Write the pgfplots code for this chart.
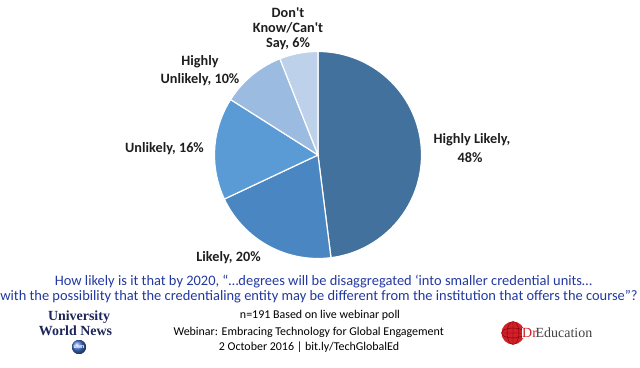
\documentclass[border=0pt]{standalone}
\usepackage{pgfplots}
\pgfplotsset{compat=1.18}
\usepackage{fontspec}
\setmainfont{Carlito}
\newfontfamily\seriffont{Liberation Serif}
\definecolor{cHL}{HTML}{41719C}
\definecolor{cL}{HTML}{4A86C2}
\definecolor{cU}{HTML}{5B9BD5}
\definecolor{cHU}{HTML}{9CBBE0}
\definecolor{cDK}{HTML}{BDD1EB}
\definecolor{labc}{HTML}{1E1E1E}
\definecolor{titc}{HTML}{2238A0}
\definecolor{uwn}{HTML}{1C2559}
\definecolor{dred}{HTML}{D0202A}
\begin{document}
\begin{tikzpicture}
\begin{axis}[width=640bp,height=367bp,scale only axis,
  xmin=0,xmax=640,ymin=0,ymax=367,hide axis,clip=false]
\path (0,0) rectangle (640,367);
% slices: Highly Likely 48, Likely 20, Unlikely 16, Highly Unlikely 10, Don't know 6 (3.6 deg per %)
\addplot[fill=cHL,draw=white,line width=1.2pt,domain=-82.8:90,samples=90,variable=\t]
  ({318+103.5*cos(\t)},{212+103.5*sin(\t)}) -- (318,212) -- cycle;
\addplot[fill=cL,draw=white,line width=1.2pt,domain=-154.8:-82.8,samples=40,variable=\t]
  ({318+103.5*cos(\t)},{212+103.5*sin(\t)}) -- (318,212) -- cycle;
\addplot[fill=cU,draw=white,line width=1.2pt,domain=-212.4:-154.8,samples=35,variable=\t]
  ({318+103.5*cos(\t)},{212+103.5*sin(\t)}) -- (318,212) -- cycle;
\addplot[fill=cHU,draw=white,line width=1.2pt,domain=-248.4:-212.4,samples=25,variable=\t]
  ({318+103.5*cos(\t)},{212+103.5*sin(\t)}) -- (318,212) -- cycle;
\addplot[fill=cDK,draw=white,line width=1.2pt,domain=-270:-248.4,samples=20,variable=\t]
  ({318+103.5*cos(\t)},{212+103.5*sin(\t)}) -- (318,212) -- cycle;
% data labels
\tikzset{lab/.style={font=\bfseries\fontsize{14.3}{17}\selectfont,text=labc,inner sep=0pt}}
\node[lab] at (288,354.7) {Don\textquotesingle t};
\node[lab] at (288,338.7) {Know/Can\textquotesingle t};
\node[lab] at (288,323.2) {Say, 6\%};
\node[lab] at (200,305.3) {Highly};
\node[lab] at (200,287) {Unlikely, 10\%};
\node[lab] at (164.5,218) {Unlikely, 16\%};
\node[lab] at (472,227) {Highly Likely,};
\node[lab] at (470,209) {48\%};
\node[lab] at (228.5,109) {Likely, 20\%};
% title
\tikzset{tit/.style={font=\fontsize{14.5}{16}\selectfont,text=titc,inner sep=0pt}}
\node[tit] at (323.5,85.3) {How likely is it that by 2020, “…degrees will be disaggregated ‘into smaller credential units…};
\node[tit] at (319,70) {with the possibility that the credentialing entity may be different from the institution that offers the course”?};
% footer
\tikzset{foot/.style={font=\fontsize{12}{15}\selectfont,text=black,inner sep=0pt}}
\node[foot] at (320,51.3) {n=191 Based on live webinar poll};
\node[foot] at (308.7,35) {Webinar: Embracing Technology for Global Engagement};
\node[foot] at (309,20.3) {2 October 2016 | bit.ly/TechGlobalEd};
% University World News logo
\node[font=\seriffont\bfseries\fontsize{14}{14}\selectfont,text=uwn,inner sep=0pt] at (79,50) {University};
\node[font=\seriffont\bfseries\fontsize{14}{14}\selectfont,text=uwn,inner sep=0pt] at (75.5,36) {World News};
\fill[ball color=cU!80!blue] (79,20) circle[radius=7];
\node[font=\fontsize{6}{6}\selectfont\bfseries,text=white,inner sep=0pt] at (79,20) {uwn};
% DrEducation logo
\fill[dred] (513,34) circle[radius=11.5];
\draw[red!50!black,line width=0.4pt] (513,22.5) -- (513,45.5) (501.5,34) -- (524.5,34)
  (513,34) ellipse[x radius=6,y radius=11.5] (513,34) ellipse[x radius=11.5,y radius=5];
\node[font=\seriffont\fontsize{14}{14}\selectfont,fill=white,inner sep=0.5pt,text=dred,anchor=west] at (521.5,34) {Dr};
\node[font=\seriffont\fontsize{14}{14}\selectfont,text=black!75,inner sep=0pt,anchor=west] at (535.5,34) {Education};
\end{axis}
\end{tikzpicture}
\end{document}
